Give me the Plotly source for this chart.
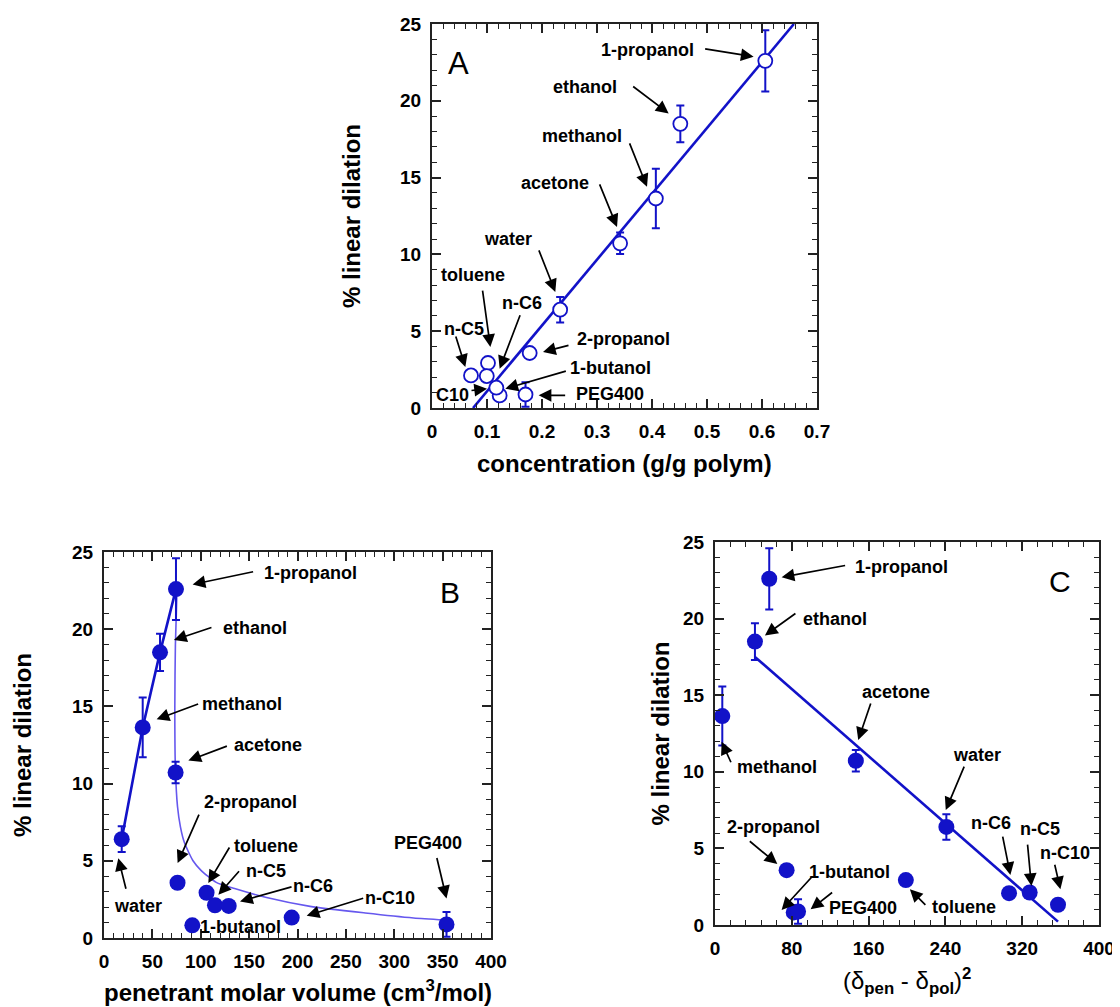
import plotly.graph_objects as go

FONT = "Liberation Sans, Arial, sans-serif"
BLUE = "#1212c8"
CURVE = "#6658ee"

# ---------------- data ----------------
solvents = ["water", "methanol", "ethanol", "1-propanol", "2-propanol", "1-butanol",
            "acetone", "toluene", "n-C5", "n-C6", "n-C10", "PEG400"]
dilation = [6.4, 13.64, 18.5, 22.6, 3.58, 0.82, 10.72, 2.93, 2.12, 2.08, 1.32, 0.88]
dil_err = [0.83, 1.93, 1.2, 2.0, 0.3, 0.0, 0.7, 0.0, 0.0, 0.0, 0.0, 0.8]
concentration = [0.233, 0.407, 0.4515, 0.606, 0.1776, 0.123, 0.342, 0.1018, 0.0709, 0.0996, 0.117, 0.170]
molar_volume = [18.3, 40.0, 57.9, 74.4, 76.0, 91.3, 74.0, 106.0, 114.7, 128.9, 194.0, 354.0]
delta_sq = [241.0, 7.6, 41.6, 56.5, 74.6, 82.0, 146.7, 198.8, 327.8, 306.3, 357.3, 86.5]

# panel A fit line
fitA_x = [0.0746, 0.658]
fitA_y = [0.0, 25.0]
# panel B: thick line through the linear alcohols
alc_idx = [0, 1, 2, 3]
# panel B thin curve
curveB_x = [75.5, 73.8, 73.2, 73.8, 76.0, 79.0, 83.0, 92.0, 100.0, 116.0, 135.0, 168.0, 213.0, 270.0, 320.0, 352.0]
curveB_y = [22.6, 19.0, 15.0, 11.0, 8.5, 7.2, 6.2, 5.0, 4.4, 3.6, 3.2, 2.62, 2.05, 1.62, 1.3, 1.17]
# panel C fit line
fitC_x = [41.6, 357.3]
fitC_y = [17.5, 0.22]

# ---------------- figure ----------------
fig = go.Figure()

fig.add_trace(go.Scatter(x=fitA_x, y=fitA_y, mode="lines", line=dict(color=BLUE, width=2.6),
                         xaxis="x", yaxis="y", showlegend=False, hoverinfo="skip"))
fig.add_trace(go.Scatter(x=concentration, y=dilation, mode="markers", text=solvents,
                         marker=dict(symbol="circle", size=14, color="white", line=dict(color=BLUE, width=1.8)),
                         error_y=dict(type="data", array=dil_err, color=BLUE, thickness=2, width=4),
                         xaxis="x", yaxis="y", showlegend=False))

fig.add_trace(go.Scatter(x=curveB_x, y=curveB_y, mode="lines", line=dict(color=CURVE, width=1.6, shape="spline", smoothing=0.6),
                         xaxis="x2", yaxis="y2", showlegend=False, hoverinfo="skip"))
fig.add_trace(go.Scatter(x=[molar_volume[i] for i in alc_idx], y=[dilation[i] for i in alc_idx], mode="lines",
                         line=dict(color=BLUE, width=2.6), xaxis="x2", yaxis="y2", showlegend=False, hoverinfo="skip"))
fig.add_trace(go.Scatter(x=molar_volume, y=dilation, mode="markers", text=solvents,
                         marker=dict(symbol="circle", size=16, color=BLUE),
                         error_y=dict(type="data", array=dil_err, color=BLUE, thickness=2, width=4),
                         xaxis="x2", yaxis="y2", showlegend=False))

fig.add_trace(go.Scatter(x=fitC_x, y=fitC_y, mode="lines", line=dict(color=BLUE, width=2.6),
                         xaxis="x3", yaxis="y3", showlegend=False, hoverinfo="skip"))
fig.add_trace(go.Scatter(x=delta_sq, y=dilation, mode="markers", text=solvents,
                         marker=dict(symbol="circle", size=16, color=BLUE),
                         error_y=dict(type="data", array=dil_err, color=BLUE, thickness=2, width=4),
                         xaxis="x3", yaxis="y3", showlegend=False))


def axis(rng, dtick, mdtick, domain, anchor):
    return dict(range=rng, domain=domain, anchor=anchor, showgrid=False, zeroline=False,
                showline=True, linecolor="#222", linewidth=2, mirror="allticks",
                ticks="inside", ticklen=9, tickwidth=1.5, tickcolor="#222",
                tick0=0, dtick=dtick,
                minor=dict(dtick=mdtick, ticks="inside", ticklen=5, tickwidth=1.2, tickcolor="#222", showgrid=False),
                tickfont=dict(family=FONT, size=19, color="black", weight="bold"),
                ticklabelstandoff=5, automargin=False, fixedrange=True)


# the page body has an 8px margin: lay out in page pixels, shifted by OFF
OFF = 8
W, H = 1120 - OFF, 1007 - OFF


def px_x(v):
    return (v - OFF) / W


def px_y(v):
    return 1 - (v - OFF) / H


dA_x = [px_x(432), px_x(817)]
dA_y = [px_y(408), px_y(24)]
dB_x = [px_x(104), px_x(491)]
dB_y = [px_y(938), px_y(552)]
dC_x = [px_x(715), px_x(1099)]
dC_y = [px_y(925), px_y(542)]

fig.update_layout(
    width=W, height=H, margin=dict(l=0, r=0, t=0, b=0),
    paper_bgcolor="white", plot_bgcolor="white", showlegend=False,
    xaxis=axis([0, 0.7], 0.1, 0.02, dA_x, "y"),
    yaxis=axis([0, 25], 5, 1, dA_y, "x"),
    xaxis2=axis([0, 400], 50, 10, dB_x, "y2"),
    yaxis2=axis([0, 25], 5, 1, dB_y, "x2"),
    xaxis3=axis([0, 400], 80, 16, dC_x, "y3"),
    yaxis3=axis([0, 25], 5, 1, dC_y, "x3"),
)

LBL = dict(family=FONT, size=18, color="black", weight="bold")
anns = []


def label(xr, yr, x, y, text, size=None, weight="bold"):
    f = dict(LBL)
    if size:
        f["size"] = size
    f["weight"] = weight
    anns.append(dict(xref=xr, yref=yr, x=x, y=y, text=text, showarrow=False, font=f,
                     xanchor="center", yanchor="middle"))


def arrow(xr, yr, x, y, ax, ay):
    anns.append(dict(xref=xr, yref=yr, x=x, y=y, ax=ax, ay=ay, text="", showarrow=True,
                     arrowhead=2, arrowsize=1.5, arrowwidth=1.7, arrowcolor="black"))


# Panel A labels: (text, text_x, text_y, head_x, head_y, ax, ay)
A_labels = [
    ("1-propanol", 0.3909, 23.31, 0.5848, 22.87, -50, -8),
    ("ethanol", 0.2788, 20.87, 0.4303, 19.18, -37, -28),
    ("methanol", 0.2727, 17.72, 0.3909, 14.40, -18, -45),
    ("acetone", 0.2242, 14.62, 0.3364, 11.79, -18, -44),
    ("water", 0.1376, 10.97, 0.2242, 7.56, -17, -43),
    ("toluene", 0.0745, 8.64, 0.1061, 3.97, -8, -58),
    ("n-C6", 0.1636, 6.84, 0.1230, 2.56, 21, -55),
    ("n-C5", 0.0576, 5.17, 0.0606, 2.67, -10, -32),
    ("2-propanol", 0.3473, 4.52, 0.2018, 3.65, 27, -7),
    ("1-butanol", 0.3242, 2.63, 0.1333, 1.26, 62, -18),
    ("C10", 0.0364, 0.825, 0.1000, 1.26, -17, 2),
    ("PEG400", 0.3242, 0.934, 0.1939, 0.825, 28, 0),
]
for t, tx, ty, hx, hy, ax_, ay_ in A_labels:
    label("x", "y", tx, ty, t)
    arrow("x", "y", hx, hy, ax_, ay_)
label("x", "y", 0.0485, 22.44, "A", size=31, weight="normal")

B_labels = [
    ("1-propanol", 213.0, 23.64, 91.6, 22.9, 62, -13),
    ("ethanol", 156.0, 20.1, 72.3, 19.3, 39, -13),
    ("methanol", 143.0, 15.15, 54.4, 14.16, 43, -16),
    ("acetone", 169.0, 12.5, 87.2, 11.49, 40, -15),
    ("2-propanol", 151.0, 8.8, 76.1, 4.85, 22, -50),
    ("toluene", 167.4, 5.93, 107.8, 3.56, 22, -37),
    ("n-C5", 167.4, 4.35, 118.2, 2.8, 22, -25),
    ("n-C6", 216.5, 3.34, 140.6, 2.37, 53, -15),
    ("n-C10", 295.6, 2.59, 209.5, 1.44, 58, -18),
    ("water", 35.5, 2.05, 14.8, 5.17, 8, 32),
    ("PEG400", 335.0, 6.13, 354.0, 2.56, -10, -42),
]
for t, tx, ty, hx, hy, ax_, ay_ in B_labels:
    label("x2", "y2", tx, ty, t)
    arrow("x2", "y2", hx, hy, ax_, ay_)
label("x2", "y2", 141.3, 0.71, "1-butanol")
label("x2", "y2", 357.6, 22.4, "B", size=30, weight="normal")

C_labels = [
    ("1-propanol", 194.3, 23.4, 69.4, 22.7, 65, -12),
    ("ethanol", 124.9, 20.0, 52.0, 18.9, 32, -23),
    ("methanol", 64.9, 10.33, 6.9, 11.96, 10, 22),
    ("acetone", 189.0, 15.2, 149.2, 12.07, 13, -38),
    ("water", 273.0, 11.09, 240.4, 7.5, 19, -45),
    ("n-C6", 288.0, 6.63, 307.7, 3.26, -8, -40),
    ("n-C5", 338.2, 6.24, 329.6, 2.54, -4, -43),
    ("n-C10", 364.3, 4.67, 359.8, 2.33, -6, -26),
    ("2-propanol", 60.7, 6.37, 64.9, 3.98, -29, -24),
    ("1-butanol", 140.5, 3.48, 69.4, 0.98, 32, -35),
    ("PEG400", 153.7, 1.09, 99.6, 1.02, 23, -18),
    ("toluene", 259.0, 1.15, 203.0, 2.33, 17, 17),
]
for t, tx, ty, hx, hy, ax_, ay_ in C_labels:
    label("x3", "y3", tx, ty, t)
    arrow("x3", "y3", hx, hy, ax_, ay_)
label("x3", "y3", 359.0, 22.4, "C", size=30, weight="normal")

# axis titles (positions in page pixels)
TF = dict(family=FONT, size=24, color="black", weight="bold")


def title(x, y, text, angle=0, font=TF):
    anns.append(dict(xref="paper", yref="paper", x=px_x(x), y=px_y(y), text=text, showarrow=False,
                     textangle=angle, font=font, xanchor="center", yanchor="middle"))


title(624.5, 463, "concentration (g/g polym)")
title(352, 216, "% linear dilation", -90)
title(297.5, 991, "penetrant molar volume (cm<sup>3</sup>/mol)")
title(22, 745, "% linear dilation", -90)
title(660, 733.5, "% linear dilation", -90)
title(907, 981, "(δ<sub><b>pen</b></sub> - δ<sub><b>pol</b></sub>)<sup><b>2</b></sup>",
      font=dict(family=FONT, size=24, color="black", weight="normal"))

fig.update_layout(annotations=anns)
fig.write_html("out.html")
